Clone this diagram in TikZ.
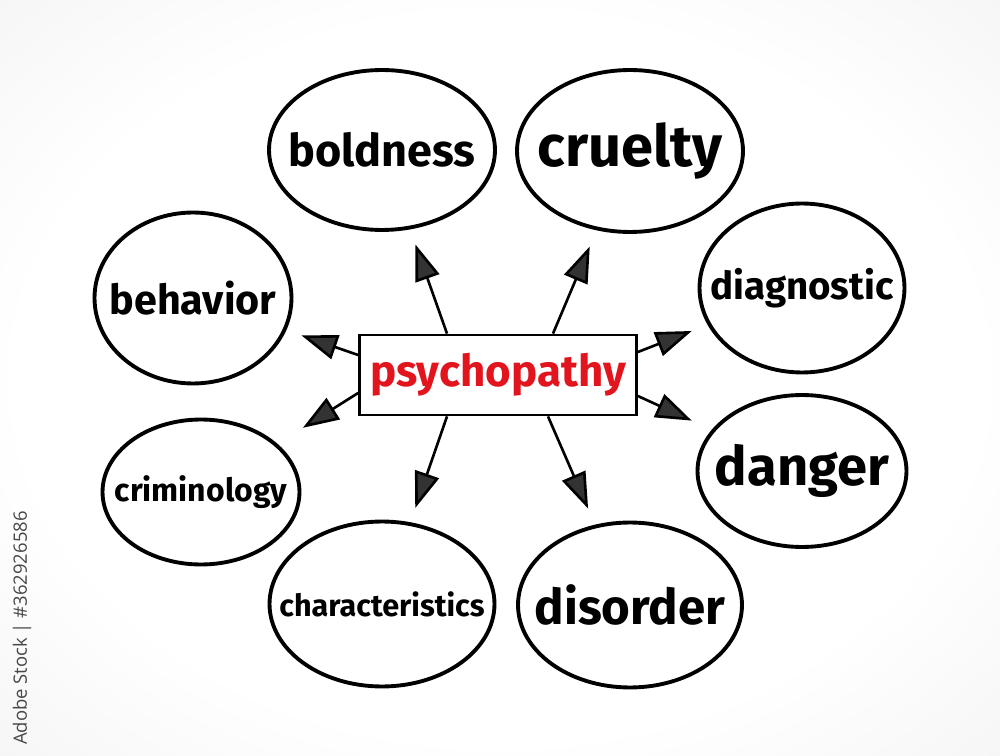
\documentclass[tikz,border=0pt]{standalone}
\usepackage{fontspec}
\usepackage{xcolor}
\usepackage{tikz}
\usetikzlibrary{arrows.meta,shapes.geometric,positioning}
\setmainfont{Fira Sans}
\newfontfamily\stockfont{Open Sans}
\definecolor{psyred}{HTML}{E2141E}
\pgfdeclareradialshading{paper}{\pgfpoint{0bp}{0bp}}{color(0bp)=(white); color(24bp)=(white); color(50bp)=(black!8); color(71bp)=(black!12)}

\begin{document}
\begin{tikzpicture}[
      x=0.02cm, y=-0.02cm,
      bubble/.style={ellipse, draw, line width=2.2pt, fill=white, inner xsep=-1.2cm, inner ysep=-0.6cm},
      centerbox/.style={rectangle, draw, line width=1.6pt, fill=white, text=psyred,
                        minimum width=5.54cm, minimum height=1.6cm},
      arrow/.style={-{Triangle[length=0.72cm, width=0.5cm, fill=black!80]}, line width=1.5pt},
    ]
    \useasboundingbox (0,0) rectangle (1000,756);
    \shade[shading=paper] (0,0) rectangle (1000,756);

    \node[centerbox, font=\bfseries\fontsize{25}{28}\selectfont] (psy) at (498,375) {psychopathy};

    \node[bubble, minimum width=4.52cm, minimum height=3.2cm,  font=\bfseries\fontsize{25.6}{28}\selectfont] (boldness) at (382,150) {boldness};
    \node[bubble, minimum width=4.52cm, minimum height=3.24cm, font=\bfseries\fontsize{32.9}{36}\selectfont] (cruelty)  at (630,151) {cruelty};
    \node[bubble, minimum width=3.94cm, minimum height=3.42cm, font=\bfseries\fontsize{23.5}{26}\selectfont] (behavior) at (193,298) {behavior};
    \node[bubble, minimum width=4.1cm,  minimum height=3.38cm, font=\bfseries\fontsize{21.9}{24}\selectfont] (diagnostic) at (802,288) {diagnostic};
    \node[bubble, minimum width=3.94cm, minimum height=2.9cm,  font=\bfseries\fontsize{18.2}{20}\selectfont] (criminology) at (201,492) {criminology};
    \node[bubble, minimum width=4.18cm, minimum height=3.04cm, font=\bfseries\fontsize{30.9}{34}\selectfont] (danger) at (802,471) {danger};
    \node[bubble, minimum width=4.5cm,  minimum height=3.3cm,  font=\bfseries\fontsize{17.4}{20}\selectfont] (characteristics) at (382,604) {characteristics};
    \node[bubble, minimum width=4.48cm, minimum height=3.3cm,  font=\bfseries\fontsize{28}{31}\selectfont] (disorder) at (630,605) {disorder};

    \node[rotate=90, text=black!72, font=\stockfont\fontsize{10.5}{12}\selectfont] (stock) at (22,628) {Adobe Stock | \#362926586};

    \draw[arrow, shorten >=0.32cm] ([xshift=-1.02cm]psy.north) -- (boldness);
    \draw[arrow, shorten >=0.35cm] ([xshift=1.1cm]psy.north) -- (cruelty);
    \draw[arrow, shorten >=0.32cm] ([yshift=0.4cm]psy.west) -- (behavior);
    \draw[arrow, shorten >=0.6cm]  ([yshift=-0.36cm]psy.west) -- (criminology);
    \draw[arrow, shorten >=0.34cm] ([yshift=0.46cm]psy.east) -- (diagnostic);
    \draw[arrow, shorten >=0.44cm] ([yshift=-0.42cm]psy.east) -- (danger);
    \draw[arrow, shorten >=0.3cm]  ([xshift=-1.02cm]psy.south) -- (characteristics);
    \draw[arrow, shorten >=0.35cm] ([xshift=1.0cm]psy.south) -- (disorder);
  \end{tikzpicture}
\end{document}
